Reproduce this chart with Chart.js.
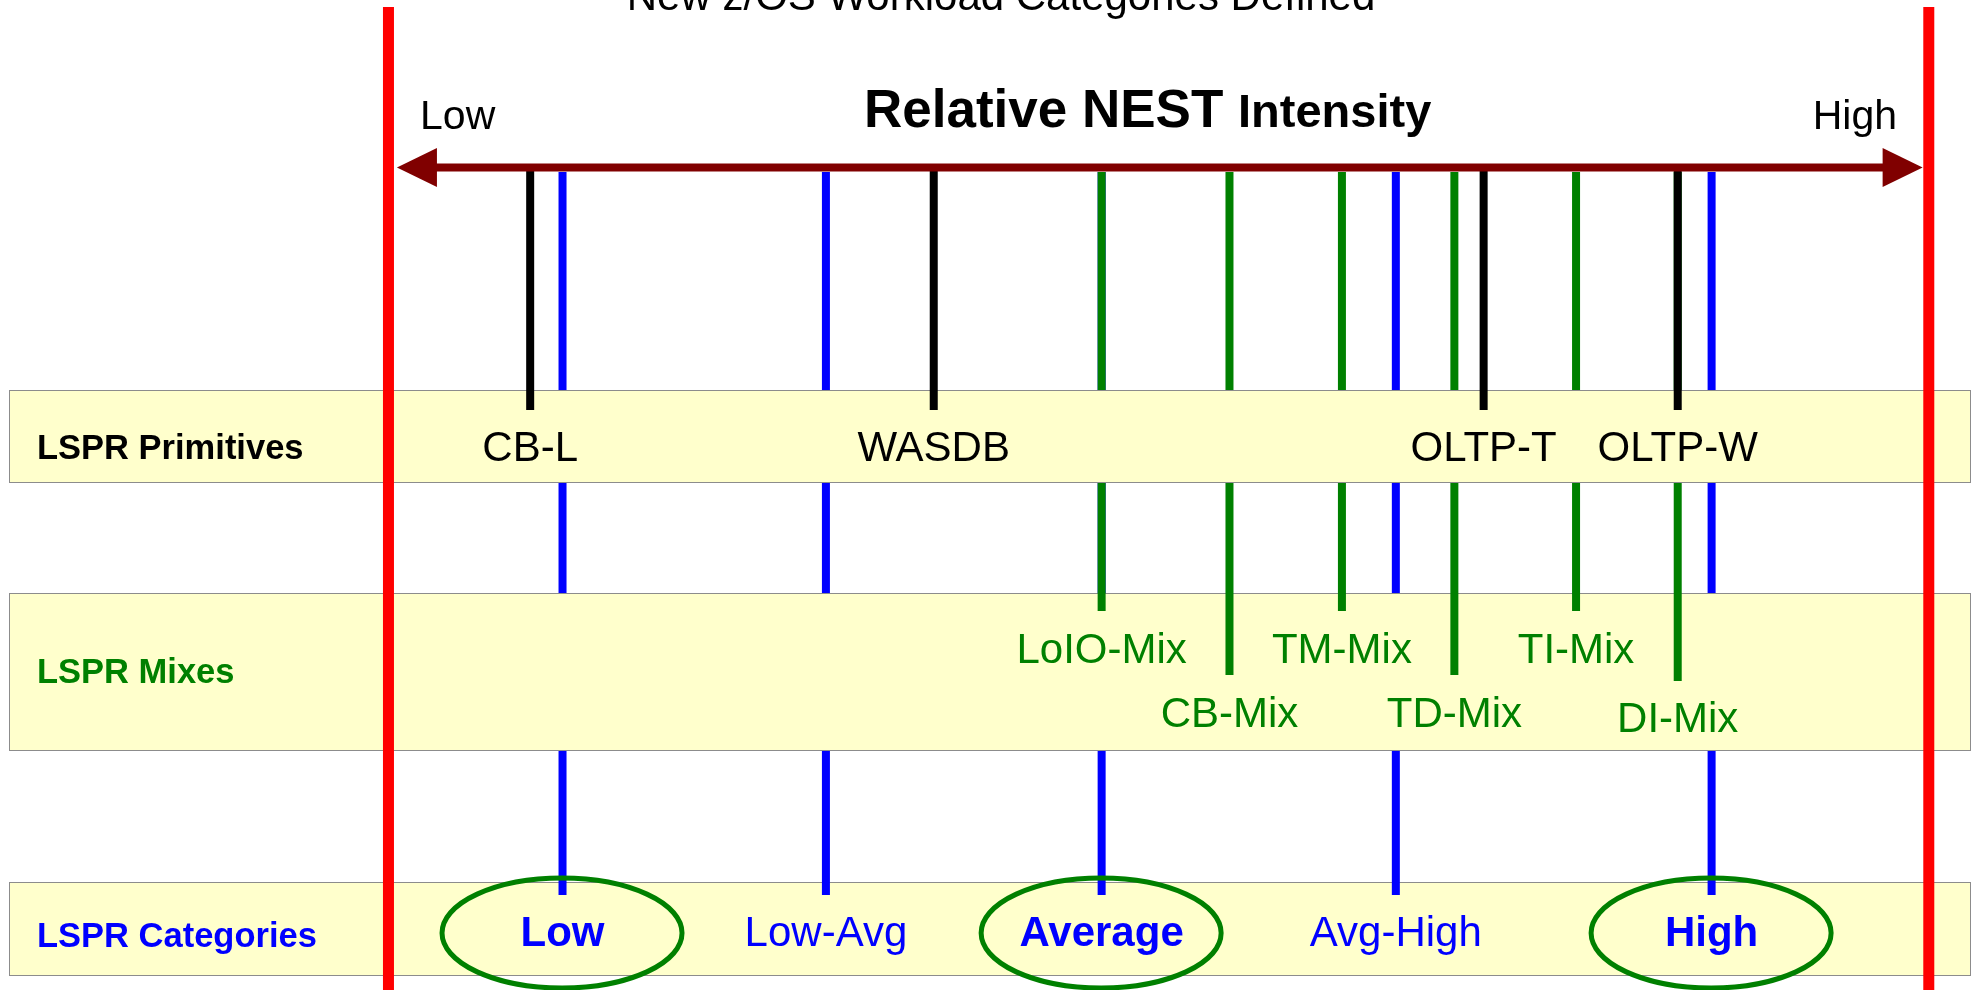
<!DOCTYPE html>
<html>
<head>
<meta charset="utf-8">
<title>New z/OS Workload Categories Defined</title>
<script src="https://cdn.jsdelivr.net/npm/chart.js@4.4.1/dist/chart.umd.min.js"></script>
<style>
  html, body { margin: 0; padding: 0; background: #fff; overflow: hidden; }
  #wrap { position: relative; width: 1977px; height: 990px; }
</style>
</head>
<body>
<div id="wrap"><canvas id="nestChart"></canvas></div>
<script>
// relative NEST intensity: 0 = low bound, 100 = high bound
const primitiveNames = ["CB-L", "WASDB", "OLTP-T", "OLTP-W"];
const primitivePos = [9.2, 35.4, 71.1, 83.7];

const mixNames = ["LoIO-Mix", "CB-Mix", "TM-Mix", "TD-Mix", "TI-Mix", "DI-Mix"];
const mixPos = [46.3, 54.6, 61.9, 69.2, 77.1, 83.7];

const categoryNames = ["Low", "Low-Avg", "Average", "Avg-High", "High"];
const categoryPos = [11.3, 28.4, 46.3, 65.4, 85.9];
const circled = ["Low", "Average", "High"];

const scaleBounds = [0, 100];
const boundLabels = ["Low", "High"];
const rowNames = ["LSPR Primitives", "LSPR Mixes", "LSPR Categories"];
const titleText = "New z/OS Workload Categories Defined";

// layout (y in page px, x in intensity units unless noted)
const X_RANGE = [-25.22, 103.13];
const ARROW_TIPS = [0.55, 99.6];
const Y = {
    title: 10, heading: 127, boundLabel: 129, arrow: 167.5,
    redTop: 7, redBottom: 990,
    bands: [[390, 483], [593, 751], [882, 976]],
    bandLabel: [459, 683, 947],
    blackTop: 168, blackBottom: 410, primLabel: 461,
    blueTop: 172, blueBottom: 895,
    greenTop: 172, mixEnd: [611, 675, 681], mixLabel: [663, 727, 732],
    catLabel: 946, ellipse: 933
};
const mixRow = [0, 1, 0, 1, 0, 2];

const RED = "#FF0000", DARKRED = "#800000", BLUE = "#0000FF", GREEN = "#008000", BAND = "#FFFFCC";
const FONT = "'Liberation Sans', Arial, Helvetica, sans-serif";

function vline(label, x, y0, y1, color, width, order, layer) {
    return {
        label, layer, order,
        data: [{ x, y: y0 }, { x, y: y1 }],
        showLine: true,
        borderColor: color,
        backgroundColor: color,
        borderWidth: width,
        borderCapStyle: "butt",
        pointRadius: 0,
        fill: false
    };
}

const datasets = [];
categoryNames.forEach((n, i) =>
    datasets.push(vline(n, categoryPos[i], Y.blueTop, Y.blueBottom, BLUE, 8, 40, "category")));
mixNames.forEach((n, i) =>
    datasets.push(vline(n, mixPos[i], Y.greenTop, Y.mixEnd[mixRow[i]], GREEN, 8, 30, "mix")));
primitiveNames.forEach((n, i) =>
    datasets.push(vline(n, primitivePos[i], Y.blackTop, Y.blackBottom, "#000000", 8, 20, "primitive")));
scaleBounds.forEach((v, i) =>
    datasets.push(vline(boundLabels[i] + " bound", v, Y.redTop, Y.redBottom, RED, 11, 10, "bound")));
datasets.push({
    label: "Relative NEST Intensity", layer: "arrow", order: 0,
    data: [{ x: ARROW_TIPS[0] + 1, y: Y.arrow }, { x: ARROW_TIPS[1] - 1, y: Y.arrow }],
    showLine: true, borderColor: DARKRED, borderWidth: 8, borderCapStyle: "butt", pointRadius: 0
});

function text(ctx, str, x, y, font, color, align) {
    ctx.font = font;
    ctx.fillStyle = color;
    ctx.textAlign = align || "center";
    ctx.textBaseline = "alphabetic";
    ctx.fillText(str, x, y);
}

function drawBand(chart, i) {
    const ctx = chart.ctx, ys = chart.scales.y;
    const left = chart.chartArea.left + 9, right = chart.chartArea.right - 6;
    const top = ys.getPixelForValue(Y.bands[i][0]), bottom = ys.getPixelForValue(Y.bands[i][1]);
    ctx.save();
    ctx.fillStyle = BAND;
    ctx.fillRect(left, top, right - left, bottom - top);
    ctx.strokeStyle = "#8C8C8C";
    ctx.lineWidth = 1;
    ctx.strokeRect(left + 0.5, top + 0.5, right - left - 1, bottom - top - 1);
    const colors = ["#000000", GREEN, BLUE];
    text(ctx, rowNames[i], chart.chartArea.left + 37, ys.getPixelForValue(Y.bandLabel[i]),
        "bold 34.5px " + FONT, colors[i], "left");
    ctx.restore();
}

const diagramPlugin = {
    id: "diagram",
    beforeDatasetsDraw(chart) {
        chart.$done = {};
        drawBand(chart, 2);
    },
    beforeDatasetDraw(chart, args) {
        const layer = chart.data.datasets[args.index].layer;
        if (layer === "mix" && !chart.$done.mix) { chart.$done.mix = true; drawBand(chart, 1); }
        if (layer === "primitive" && !chart.$done.prim) { chart.$done.prim = true; drawBand(chart, 0); }
    },
    afterDatasetsDraw(chart) {
        const ctx = chart.ctx, xs = chart.scales.x, ys = chart.scales.y;
        const px = v => xs.getPixelForValue(v), py = v => ys.getPixelForValue(v);
        ctx.save();

        // arrow heads
        const ay = py(Y.arrow);
        ctx.fillStyle = DARKRED;
        [[ARROW_TIPS[0], 1], [ARROW_TIPS[1], -1]].forEach(([v, dir]) => {
            const tip = px(v);
            ctx.beginPath();
            ctx.moveTo(tip, ay);
            ctx.lineTo(tip + dir * 40, ay - 19.5);
            ctx.lineTo(tip + dir * 40, ay + 19.5);
            ctx.closePath();
            ctx.fill();
        });

        // title (cut at the top edge) and heading
        text(ctx, titleText, px(39.77), py(Y.title), "42px " + FONT, "#000000");
        ctx.font = "bold 53px " + FONT;
        const head1 = "Relative NEST ";
        const hx = px(30.87);
        text(ctx, head1, hx, py(Y.heading), "bold 53px " + FONT, "#000000", "left");
        const w1 = ctx.measureText(head1).width;
        text(ctx, "Intensity", hx + w1, py(Y.heading), "bold 47px " + FONT, "#000000", "left");
        text(ctx, boundLabels[0], px(2.05), py(Y.boundLabel), "41px " + FONT, "#000000", "left");
        text(ctx, boundLabels[1], px(97.94), py(Y.boundLabel), "41px " + FONT, "#000000", "right");

        // primitive labels
        primitiveNames.forEach((n, i) =>
            text(ctx, n, px(primitivePos[i]), py(Y.primLabel), "42px " + FONT, "#000000"));
        // mix labels
        mixNames.forEach((n, i) =>
            text(ctx, n, px(mixPos[i]), py(Y.mixLabel[mixRow[i]]), "42px " + FONT, GREEN));
        // category labels and circles
        categoryNames.forEach((n, i) => {
            const cx = px(categoryPos[i]);
            const bold = circled.includes(n);
            if (bold) {
                ctx.beginPath();
                ctx.ellipse(cx - 0.5, py(Y.ellipse), 120, 55, 0, 0, Math.PI * 2);
                ctx.strokeStyle = GREEN;
                ctx.lineWidth = 5;
                ctx.stroke();
            }
            text(ctx, n, cx, py(Y.catLabel), (bold ? "bold " : "") + "42px " + FONT, BLUE);
        });
        ctx.restore();
    }
};

new Chart(document.getElementById("nestChart"), {
    type: "scatter",
    data: { datasets },
    options: {
        responsive: true,
        maintainAspectRatio: false,
        animation: false,
        events: [],
        layout: { padding: 0 },
        plugins: { legend: { display: false }, tooltip: { enabled: false } },
        scales: {
            x: { type: "linear", min: X_RANGE[0], max: X_RANGE[1], display: false },
            y: { type: "linear", min: 0, max: 990, reverse: true, display: false }
        }
    },
    plugins: [diagramPlugin]
});
</script>
</body>
</html>
